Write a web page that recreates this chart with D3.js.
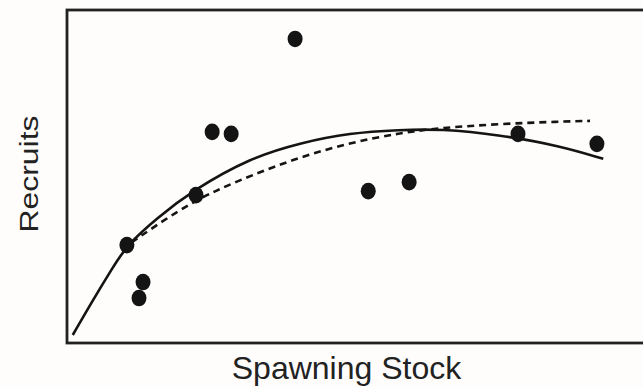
<!DOCTYPE html>
<html>
<head>
<meta charset="utf-8">
<script src="https://cdn.jsdelivr.net/npm/d3@7/dist/d3.min.js"></script>
<style>
  html, body { margin: 0; padding: 0; background: #fefdfc; }
  svg { display: block; }
</style>
</head>
<body>
<svg id="chart" width="643" height="387"></svg>
<script>
// Observed stock–recruitment pairs (relative units, 0–100)
const stock    = [39.6, 25.2, 28.5, 78.3, 92.0, 22.4, 52.3, 59.4, 10.4, 13.2, 12.5];
const recruits = [91.3, 63.4, 62.8, 62.8, 59.8, 44.4, 45.6, 48.3, 29.4, 18.3, 13.5];

// Dome-shaped fit (solid)
const domeStock   = [1.0, 4.5, 8.0, 10.4, 15.6, 21.9, 31.8, 40.5, 49.1, 57.8, 64.8, 75.2, 85.6, 93.1];
const domeRecruit = [2.4, 12.9, 22.8, 29.4, 37.5, 45.9, 55.6, 60.1, 63.1, 64.0, 64.3, 62.5, 59.2, 55.3];

// Asymptotic fit (dashed)
const asymStock   = [9.5, 20.1, 26.0, 31.8, 40.5, 49.1, 57.8, 64.8, 75.2, 85.6, 90.8];
const asymRecruit = [28.2, 40.8, 45.9, 50.2, 55.9, 60.1, 63.1, 64.6, 65.8, 66.5, 66.7];

const xLabel = "Spawning Stock";
const yLabel = "Recruits";

const svg = d3.select("#chart");
const plotLeft = 67, plotRight = 643, plotTop = 10, plotBottom = 343;

const x = d3.scaleLinear().domain([0, 100]).range([plotLeft, plotRight]);
const y = d3.scaleLinear().domain([0, 100]).range([plotBottom, plotTop]);

const ink = "#141414";

// Plot frame (right edge runs off the canvas)
svg.append("rect")
  .attr("x", plotLeft).attr("y", plotTop)
  .attr("width", plotRight - plotLeft + 10).attr("height", plotBottom - plotTop)
  .attr("fill", "none")
  .attr("stroke", "#222")
  .attr("stroke-width", 2.8);

const line = d3.line()
  .x(d => x(d[0]))
  .y(d => y(d[1]))
  .curve(d3.curveBasis);

svg.append("path")
  .datum(d3.zip(asymStock, asymRecruit))
  .attr("d", line)
  .attr("fill", "none")
  .attr("stroke", ink)
  .attr("stroke-width", 2.6)
  .attr("stroke-dasharray", "7,5");

svg.append("path")
  .datum(d3.zip(domeStock, domeRecruit))
  .attr("d", line)
  .attr("fill", "none")
  .attr("stroke", ink)
  .attr("stroke-width", 2.6);

svg.append("g")
  .selectAll("ellipse")
  .data(d3.zip(stock, recruits))
  .join("ellipse")
  .attr("cx", d => x(d[0]))
  .attr("cy", d => y(d[1]))
  .attr("rx", 7.5)
  .attr("ry", 8.3)
  .attr("fill", ink);

// Axis titles
svg.append("text")
  .attr("x", (230 + 463) / 2)
  .attr("y", 378.5)
  .attr("text-anchor", "middle")
  .attr("font-family", "Liberation Sans, Arial, sans-serif")
  .attr("font-size", 32)
  .attr("fill", "#222")
  .text(xLabel);

svg.append("text")
  .attr("transform", "translate(38,174) rotate(-90) scale(1.03,0.86)")
  .attr("text-anchor", "middle")
  .attr("font-family", "Liberation Sans, Arial, sans-serif")
  .attr("font-size", 31)
  .attr("fill", "#222")
  .text(yLabel);
</script>
</body>
</html>
